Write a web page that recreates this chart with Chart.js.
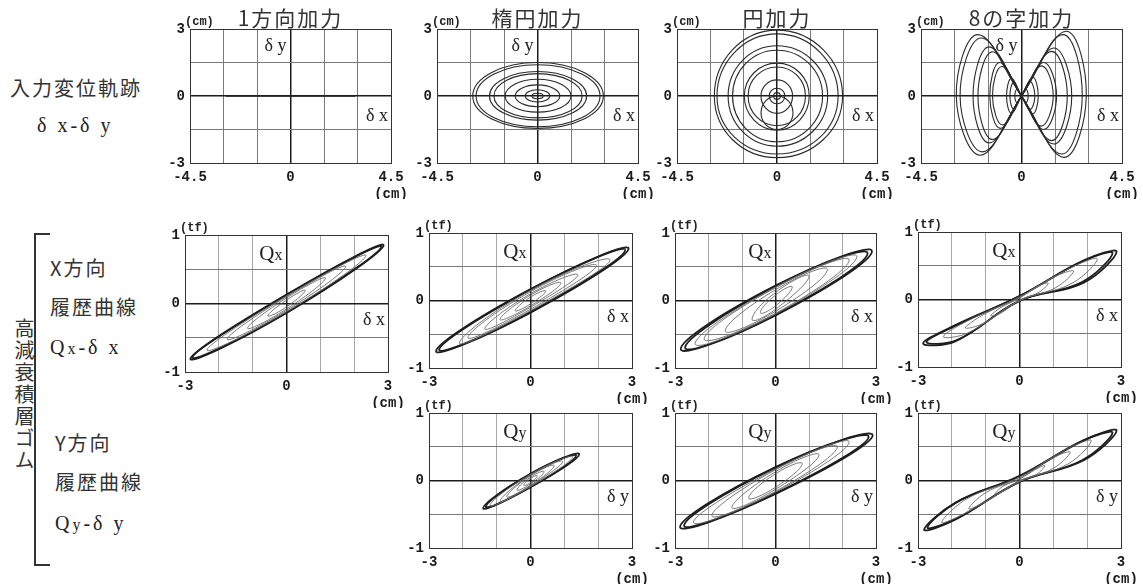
<!DOCTYPE html>
<html lang="ja">
<head>
<meta charset="utf-8">
<script src="https://cdn.jsdelivr.net/npm/chart.js@4.4.1/dist/chart.umd.min.js"></script>
<style>
  body { margin: 0; width: 1143px; height: 586px; position: relative; overflow: hidden; background: #fff; color: #222; font-family: "Noto Sans CJK JP", sans-serif; }
  canvas, .t { position: absolute; }
  .t { white-space: nowrap; line-height: 1; }
  .jp { font-size: 20px; letter-spacing: 2px; color: #333; }
  .ttl { font-size: 21px; letter-spacing: 2px; color: #333; transform: translateX(-50%); top: 7px; }
  .unit { font: bold 12px "Liberation Mono", monospace; }
  .sym { font: 18px "Liberation Serif", serif; }
  .sym small { font-size: 16px; }
  .bracket { position: absolute; left: 34px; top: 233px; width: 14px; height: 329px; border: 2px solid #333; border-right: none; }
  .vert { writing-mode: vertical-rl; font-size: 20px; letter-spacing: 2px; color: #333; left: 14px; top: 318px; }
</style>
</head>
<body>
<div class="t jp" style="left:10px;top:78px;">入力変位軌跡</div>
<div class="t sym" style="left:37px;top:114px;font-size:20px;letter-spacing:3px;">δ x-δ y</div>
<div class="bracket"></div>
<div class="t vert">高減衰積層ゴム</div>
<div class="t jp" style="left:50px;top:258px;">X方向</div>
<div class="t jp" style="left:50px;top:297px;">履歴曲線</div>
<div class="t sym" style="left:50px;top:336px;font-size:20px;letter-spacing:3px;">Q<small>x</small>-δ x</div>
<div class="t jp" style="left:55px;top:433px;">Y方向</div>
<div class="t jp" style="left:55px;top:472px;">履歴曲線</div>
<div class="t sym" style="left:55px;top:512px;font-size:20px;letter-spacing:3px;">Q<small>y</small>-δ y</div>
<script>
// axis ticks that carry a label
const dispTicksX = [-4.5, 0, 4.5];
const dispTicksY = [-3, 0, 3];
const loadTicksX = [-3, 0, 3];
const loadTicksY = [-1, 0, 1];

// input displacement paths (cm): δx, δy
const trackUni = [[-2.9, 0], [2.9, 0]];
const trackEllipse = [
  [[2.95, 0], [0, 1.5], [-2.9, 0], [0, -1.45]],
  [[2.8, 0], [0, 1.4], [-2.75, 0], [0, -1.38]],
  [[2.2, 0], [0, 1.1], [-2.15, 0], [0, -1.08]],
  [[2.0, 0], [0, 1.0], [-1.95, 0], [0, -0.98]],
  [[1.5, 0], [0, 0.75], [-1.45, 0], [0, -0.72]],
  [[1.0, 0], [0, 0.5], [-1.0, 0], [0, -0.48]],
  [[0.55, 0], [0, 0.28], [-0.55, 0], [0, -0.27]],
  [[0.25, 0], [0, 0.12], [-0.25, 0], [0, -0.12]]
];
const trackCircle = [
  [[2.95, 0], [0, 2.95], [-2.82, 0], [0, -2.76]],
  [[2.75, 0], [0, 2.78], [-2.7, 0], [0, -2.6]],
  [[2.28, 0], [0, 2.25], [-2.2, 0], [0, -2.25]],
  [[2.05, 0], [0, 2.05], [-2.0, 0], [0, -2.05]],
  [[1.45, 0], [0, 1.47], [-1.47, 0], [0, -1.53]],
  [[1.28, 0], [0, 1.3], [-1.3, 0], [0, -1.33]],
  [[0.7, 0], [0, 0.72], [-0.72, 0], [0, -0.78]],
  [[0.72, -0.75], [0, 0], [-0.72, -0.75], [0, -1.5]],
  [[0.35, 0], [0, 0.35], [-0.35, 0], [0, -0.35]],
  [[0.15, 0], [0, 0.15], [-0.15, 0], [0, -0.15]]
];
const trackEight = [
  [[0, 0], [2.0, 2.9], [2.9, 0], [1.9, -2.75], [0, 0], [-1.95, 2.75], [-2.92, 0], [-1.85, -2.65]],
  [[0, 0], [1.85, 2.75], [2.72, 0], [1.8, -2.6], [0, 0], [-1.8, 2.6], [-2.75, 0], [-1.75, -2.5]],
  [[0, 0], [1.45, 2.15], [2.25, 0], [1.45, -2.15], [0, 0], [-1.45, 2.2], [-2.17, 0], [-1.45, -2.1]],
  [[0, 0], [1.35, 2.0], [2.05, 0], [1.35, -2.0], [0, 0], [-1.3, 1.98], [-1.95, 0], [-1.3, -1.95]],
  [[0, 0], [1.0, 1.5], [1.57, 0], [1.0, -1.5], [0, 0], [-0.98, 1.5], [-1.42, 0], [-0.95, -1.45]],
  [[0, 0], [0.9, 1.35], [1.42, 0], [0.88, -1.35], [0, 0], [-0.88, 1.32], [-1.3, 0], [-0.85, -1.3]],
  [[0, 0], [0.5, 0.85], [0.75, 0], [0.5, -0.8], [0, 0], [-0.45, 0.8], [-0.67, 0], [-0.45, -0.78]],
  [[0, 0], [0.38, 0.65], [0.6, 0], [0.38, -0.6], [0, 0], [-0.35, 0.6], [-0.52, 0], [-0.35, -0.58]],
  [[0, 0], [0.2, 0.3], [0.3, 0], [0.2, -0.3], [0, 0], [-0.2, 0.3], [-0.3, 0], [-0.2, -0.3]]
];

// hysteresis loops (δ cm, Q tf), outermost first
const loopsUniX = [
  [[2.87, 0.85], [0, -0.14], [-2.84, -0.81], [0, 0.13]],
  [[2.8, 0.83], [0, -0.13], [-2.78, -0.79], [0, 0.12]],
  [[2.35, 0.7], [0, -0.12], [-2.35, -0.68], [0, 0.11]],
  [[1.75, 0.54], [0, -0.1], [-1.75, -0.52], [0, 0.1]],
  [[1.15, 0.37], [0, -0.08], [-1.15, -0.36], [0, 0.08]],
  [[0.55, 0.19], [0, -0.05], [-0.55, -0.18], [0, 0.05]]
];
const loopsEllX = [
  [[2.9, 0.77], [0, -0.18], [-2.79, -0.75], [0, 0.17]],
  [[2.8, 0.75], [0, -0.17], [-2.7, -0.73], [0, 0.16]],
  [[2.35, 0.6], [0, -0.15], [-2.1, -0.63], [0, 0.15]],
  [[1.95, 0.52], [0, -0.13], [-1.85, -0.55], [0, 0.13]],
  [[1.4, 0.38], [0, -0.1], [-1.35, -0.42], [0, 0.1]],
  [[0.9, 0.26], [0, -0.08], [-0.9, -0.28], [0, 0.08]],
  [[0.45, 0.14], [0, -0.05], [-0.45, -0.15], [0, 0.05]]
];
const loopsCirX = [
  [[2.88, 0.73], [0, -0.22], [-2.83, -0.72], [0, 0.22]],
  [[2.75, 0.7], [0, -0.21], [-2.7, -0.7], [0, 0.21]],
  [[2.43, 0.65], [0, -0.2], [-2.4, -0.64], [0, 0.2]],
  [[2.2, 0.6], [0, -0.19], [-2.13, -0.57], [0, 0.19]],
  [[1.55, 0.46], [0, -0.16], [-1.5, -0.45], [0, 0.16]],
  [[1.0, 0.36], [0, -0.13], [-0.7, -0.28], [0, 0.12]],
  [[0.5, 0.2], [0, -0.08], [-0.45, -0.18], [0, 0.08]]
];
const loopsEightX = [
  [[2.87, 0.71], [1.9, 0.25], [0, -0.02], [-1.9, -0.62], [-2.85, -0.65], [-1.9, -0.38], [0, 0.05], [1.9, 0.58]],
  [[2.75, 0.69], [1.85, 0.26], [0, -0.02], [-1.85, -0.6], [-2.75, -0.63], [-1.85, -0.38], [0, 0.05], [1.85, 0.56]],
  [[2.3, 0.6], [1.55, 0.24], [0, -0.02], [-1.55, -0.5], [-2.25, -0.55], [-1.55, -0.32], [0, 0.04], [1.55, 0.48]],
  [[1.6, 0.42], [1.05, 0.17], [0, -0.01], [-1.05, -0.35], [-1.6, -0.42], [-1.05, -0.22], [0, 0.03], [1.05, 0.34]],
  [[0.85, 0.24], [0.55, 0.1], [0, -0.01], [-0.55, -0.2], [-0.85, -0.24], [-0.55, -0.12], [0, 0.02], [0.55, 0.2]]
];
const loopsEllY = [
  [[1.44, 0.39], [0, -0.1], [-1.4, -0.41], [0, 0.1]],
  [[1.35, 0.37], [0, -0.095], [-1.32, -0.39], [0, 0.095]],
  [[1.25, 0.35], [0, -0.09], [-1.2, -0.37], [0, 0.09]],
  [[0.95, 0.28], [0, -0.08], [-0.9, -0.31], [0, 0.08]],
  [[0.7, 0.22], [0, -0.07], [-0.7, -0.24], [0, 0.07]],
  [[0.4, 0.13], [0, -0.05], [-0.4, -0.14], [0, 0.05]],
  [[0.2, 0.07], [0, -0.03], [-0.2, -0.07], [0, 0.03]]
];
const loopsCirY = [
  [[2.9, 0.67], [0, -0.2], [-2.85, -0.69], [0, 0.2]],
  [[2.78, 0.65], [0, -0.19], [-2.73, -0.67], [0, 0.19]],
  [[2.2, 0.57], [0, -0.17], [-2.45, -0.62], [0, 0.17]],
  [[1.85, 0.5], [0, -0.16], [-1.9, -0.52], [0, 0.16]],
  [[1.3, 0.38], [0, -0.13], [-1.3, -0.4], [0, 0.13]],
  [[0.8, 0.25], [0, -0.1], [-0.8, -0.26], [0, 0.1]]
];
const loopsEightY = [
  [[2.87, 0.74], [1.9, 0.3], [0, -0.02], [-1.9, -0.58], [-2.82, -0.73], [-1.9, -0.33], [0, 0.07], [1.9, 0.6]],
  [[2.75, 0.71], [1.85, 0.3], [0, -0.02], [-1.85, -0.56], [-2.72, -0.7], [-1.85, -0.32], [0, 0.06], [1.85, 0.58]],
  [[2.12, 0.59], [1.45, 0.25], [0, -0.02], [-1.55, -0.47], [-2.3, -0.62], [-1.55, -0.27], [0, 0.05], [1.45, 0.48]],
  [[1.5, 0.42], [1.0, 0.18], [0, -0.01], [-1.0, -0.31], [-1.5, -0.42], [-1.0, -0.18], [0, 0.03], [1.0, 0.34]],
  [[0.75, 0.22], [0.5, 0.09], [0, 0], [-0.5, -0.16], [-0.75, -0.22], [-0.5, -0.09], [0, 0.02], [0.5, 0.17]]
];

// margins around each plot area inside its canvas
const ML = 40, MR = 24, MT = 10, MB = 36;

const panels = [
  { L: 190, T: 29, W: 201, H: 134, disp: true, path: trackUni, title: '1方向加力', yName: 'δ y', xName: 'δ x' },
  { L: 437, T: 29, W: 201, H: 134, disp: true, loops: trackEllipse, title: '楕円加力', yName: 'δ y', xName: 'δ x' },
  { L: 677, T: 29, W: 200, H: 134, disp: true, loops: trackCircle, title: '円加力', xName: 'δ x' },
  { L: 921, T: 29, W: 201, H: 134, disp: true, loops: trackEight, title: '8の字加力', yName: 'δ y', xName: 'δ x' },
  { L: 185, T: 235, W: 203, H: 137, loops: loopsUniX, q: 'x' },
  { L: 429, T: 233, W: 203, H: 135, loops: loopsEllX, q: 'x' },
  { L: 675, T: 233, W: 201, H: 135, loops: loopsCirX, q: 'x' },
  { L: 918, T: 232, W: 203, H: 135, loops: loopsEightX, q: 'x' },
  { L: 429, T: 413, W: 203, H: 135, loops: loopsEllY, q: 'y' },
  { L: 675, T: 413, W: 201, H: 135, loops: loopsCirY, q: 'y' },
  { L: 918, T: 413, W: 203, H: 135, loops: loopsEightY, q: 'y' }
];

const near = (a, b) => Math.abs(a - b) < 1e-6;

// closed loop: pad with one point on each side so every visible joint is smooth,
// then hide the two padding segments
function loopDataset(pts, width, color) {
  const n = pts.length;
  const seq = [pts[n - 1], ...pts, pts[0], pts[1]].map(([x, y]) => ({ x, y }));
  const last = seq.length - 1;
  return {
    data: seq,
    borderColor: color,
    borderWidth: width,
    tension: n > 4 ? 0.4 : 0.55,
    pointRadius: 0,
    fill: false,
    segment: {
      borderColor: c => (c.p0DataIndex === 0 || c.p1DataIndex === last) ? 'rgba(0,0,0,0)' : undefined
    }
  };
}

function axis(min, max, step, labelled, horizontal, light) {
  const fit = horizontal
    ? s => { s.height = MB; s.paddingLeft = 0; s.paddingRight = 0; }
    : s => { s.width = ML; s.paddingTop = 0; s.paddingBottom = 0; };
  return {
    type: 'linear', min, max,
    afterFit: fit,
    ticks: {
      stepSize: step, autoSkip: false, maxRotation: 0, padding: horizontal ? 6 : 5,
      color: '#1a1a1a',
      font: { family: 'Liberation Mono', weight: 'bold', size: 14 },
      callback: v => {
        if (!labelled.some(t => near(t, v))) return '';
        const s = String(v);
        return horizontal && near(v, max) ? [s, '(cm)'] : s;
      }
    },
    grid: {
      drawTicks: false,
      color: c => {
        const v = c.tick ? c.tick.value : 0;
        if (near(v, 0)) return '#1c1c1c';
        if (near(v, min) || near(v, max)) return '#333';
        return light ? '#a8a8a8' : '#7a7a7a';
      },
      lineWidth: c => (c.tick && near(c.tick.value, 0)) ? 1.5 : 1
    },
    border: { color: '#333', width: 1 }
  };
}

function addText(cls, html, left, top, extra) {
  const d = document.createElement('div');
  d.className = 't ' + cls;
  d.innerHTML = html;
  d.style.left = left + 'px';
  d.style.top = top + 'px';
  if (extra) d.style.cssText += extra;
  document.body.appendChild(d);
  return d;
}

panels.forEach(p => {
  const xr = p.disp ? 4.5 : 3, yr = p.disp ? 3 : 1;
  const zeroX = p.L + p.W / 2, zeroY = p.T + p.H / 2;

  const canvas = document.createElement('canvas');
  canvas.width = p.W + ML + MR;
  canvas.height = p.H + MT + MB;
  canvas.style.left = (p.L - ML) + 'px';
  canvas.style.top = (p.T - MT) + 'px';
  document.body.appendChild(canvas);

  let datasets;
  if (p.path) {
    datasets = [{ data: p.path.map(([x, y]) => ({ x, y })), borderColor: '#222', borderWidth: 1.3, pointRadius: 0, fill: false }];
  } else if (p.disp) {
    datasets = p.loops.map(l => loopDataset(l, 1.1, '#2a2a2a'));
  } else {
    // the two outer cycles are drawn heavy, smaller ones light
    datasets = p.loops.map((l, i) => i < 2 ? loopDataset(l, 1.8, '#1e1e1e') : loopDataset(l, 0.9, '#6a6a6a'));
    datasets.reverse();
  }

  new Chart(canvas, {
    type: 'line',
    data: { datasets },
    options: {
      responsive: false,
      animation: false,
      events: [],
      parsing: false,
      layout: { padding: { left: 0, right: MR, top: MT, bottom: 0 } },
      plugins: { legend: { display: false }, tooltip: { enabled: false } },
      scales: {
        x: axis(-xr, xr, p.disp ? 1.5 : 1, p.disp ? dispTicksX : loadTicksX, true, !p.disp),
        y: axis(-yr, yr, p.disp ? 1.5 : 0.5, p.disp ? dispTicksY : loadTicksY, false, false)
      }
    }
  });

  // unit at the top of the vertical axis
  addText('unit', p.disp ? '(cm)' : '(tf)', p.L - 5, p.T - 14);
  if (p.title) addText('ttl', p.title, zeroX, 7);
  if (p.disp) {
    if (p.yName) addText('sym', p.yName, zeroX - 4, p.T + 6, 'transform:translateX(-100%);');
    addText('sym', p.xName, p.L + p.W - 3, zeroY + 9, 'transform:translateX(-100%);');
  } else {
    addText('sym', 'Q<small>' + p.q + '</small>', zeroX - 4, p.T + 6, 'transform:translateX(-100%);font-size:21px;');
    addText('sym', 'δ ' + p.q, p.L + p.W - 3, zeroY + 5, 'transform:translateX(-100%);');
  }
});
</script>
</body>
</html>
